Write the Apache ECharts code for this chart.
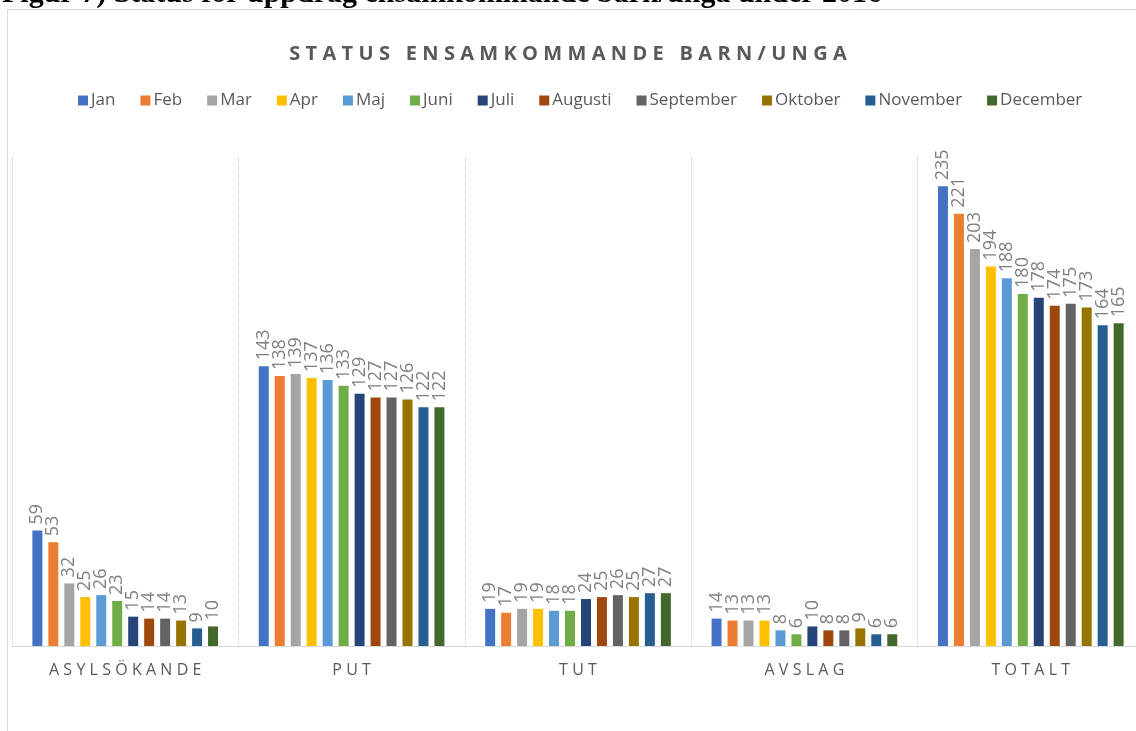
<!DOCTYPE html>
<html>
<head>
<meta charset="utf-8">
<script src="https://cdn.jsdelivr.net/npm/echarts@6/dist/echarts.min.js"></script>
<style>html,body{margin:0;padding:0;background:#fff;}#c{width:1136px;height:731px;}</style>
</head>
<body>
<div id="c"></div>
<script>
const categories = ['ASYLSÖKANDE', 'PUT', 'TUT', 'AVSLAG', 'TOTALT'];
const months = ['Jan','Feb','Mar','Apr','Maj','Juni','Juli','Augusti','September','Oktober','November','December'];
const Jan = [59, 143, 19, 14, 235];
const Feb = [53, 138, 17, 13, 221];
const Mar = [32, 139, 19, 13, 203];
const Apr = [25, 137, 19, 13, 194];
const Maj = [26, 136, 18, 8, 188];
const Juni = [23, 133, 18, 6, 180];
const Juli = [15, 129, 24, 10, 178];
const Augusti = [14, 127, 25, 8, 174];
const September = [14, 127, 26, 8, 175];
const Oktober = [13, 126, 25, 9, 173];
const November = [9, 122, 27, 6, 164];
const December = [10, 122, 27, 6, 165];
const seriesValues = [Jan, Feb, Mar, Apr, Maj, Juni, Juli, Augusti, September, Oktober, November, December];
const colors = ['#4472C4','#ED7D31','#A5A5A5','#FFC000','#5B9BD5','#70AD47','#264478','#9E480E','#636363','#997300','#255E91','#43682B'];
const titleText = 'STATUS ENSAMKOMMANDE BARN/UNGA';
const captionText = 'Figur 7) Status för uppdrag ensamkommande barn/unga under 2016';

const spaced = (s, sep) => s.split('').join(sep);

const chart = echarts.init(document.getElementById('c'));
chart.setOption({
  animation: false,
  color: colors,
  textStyle: { fontFamily: 'Open Sans, Liberation Sans, sans-serif' },
  graphic: [
    { type: 'rect', shape: { x: 7.5, y: 9.5, width: 1150, height: 760 }, style: { fill: '#fff', stroke: '#d9d9d9', lineWidth: 1 }, z: -10 },
    { type: 'text', x: 2, y: 9, style: { text: captionText, font: 'bold 30px "Liberation Serif", serif', fill: '#000', verticalAlign: 'bottom' }, z: -5 }
  ],
  title: {
    text: spaced(titleText, '\u2009\u200A'),
    left: 'center',
    top: 39,
    textStyle: { color: '#595959', fontSize: 20, fontWeight: 'bold', fontFamily: 'Open Sans, sans-serif' }
  },
  legend: {
    top: 87,
    left: 73,
    itemWidth: 10,
    itemHeight: 10,
    itemGap: 25,
    icon: 'rect',
    textStyle: { color: '#595959', fontSize: 17, padding: [0, 0, 0, -2], fontFamily: 'Open Sans, sans-serif' },
    data: months
  },
  grid: { left: 12, width: 1132, top: 157, bottom: 85, outerBoundsMode: 'none', containLabel: false },
  xAxis: {
    type: 'category',
    data: categories,
    axisLine: { lineStyle: { color: '#d9d9d9' } },
    axisTick: { show: false },
    axisLabel: {
      color: '#595959', fontSize: 16, margin: 16,
      formatter: v => spaced(v, '\u2009\u200A')
    },
    splitLine: { show: true, lineStyle: { color: '#c8c8c8', type: 'dotted' } }
  },
  yAxis: {
    type: 'value', min: 0, max: 250,
    show: true,
    axisLine: { show: false }, axisTick: { show: false }, axisLabel: { show: false },
    splitLine: { show: false }
  },
  series: seriesValues.map((vals, i) => ({
    name: months[i],
    type: 'bar',
    data: vals,
    barGap: '60%',
    barCategoryGap: '18%',
    label: {
      show: true,
      position: 'top',
      rotate: 90,
      align: 'left',
      verticalAlign: 'middle',
      distance: 6,
      color: '#7f7f7f',
      fontSize: 18,
      fontFamily: 'Open Sans, sans-serif'
    }
  }))
});
</script>
</body>
</html>
